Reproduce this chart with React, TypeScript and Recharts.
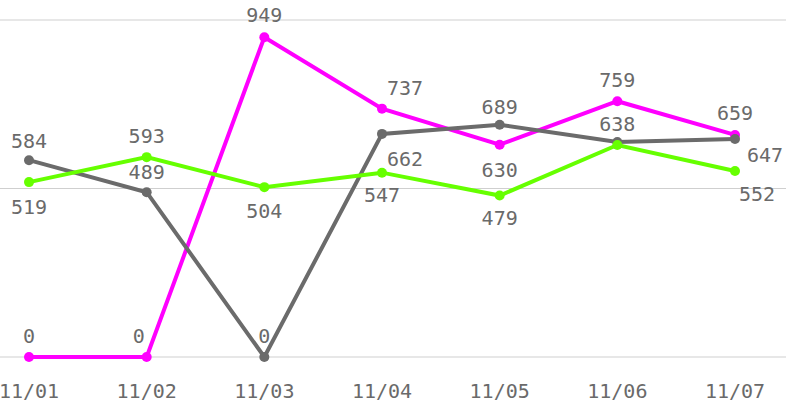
import { LineChart, Line, XAxis, YAxis, CartesianGrid, LabelList } from "recharts";

const categories = ["11/01", "11/02", "11/03", "11/04", "11/05", "11/06", "11/07"];
const grayValues = [584, 489, 0, 662, 689, 638, 647];
const magentaValues = [0, 0, 949, 737, 630, 759, 659];
const greenValues = [519, 593, 504, 547, 479, 629, 552];
const yTicks = [0, 500, 1000];

// label offsets (dx, dy of text centre from the point); null = no label shown
const grayLabelPos: ([number, number] | null)[] = [[0, -19], [0, -20], [0, -21], [23, 25], [0, -18], [0, -18], [30, 16]];
const magentaLabelPos: ([number, number] | null)[] = [[0, -21], [-8, -21], [0, -22], [23, -21], [0, 25], [0, -21], [0, -22]];
const greenLabelPos: ([number, number] | null)[] = [[0, 25], [0, -21], [0, 24], [0, 22], [0, 22], null, [22, 23]];

const data = categories.map((day, i) => ({
  day,
  gray: grayValues[i],
  magenta: magentaValues[i],
  green: greenValues[i],
}));

const FONT = "'DejaVu Sans Mono', monospace";

const makeLabel = (pos: ([number, number] | null)[]) => (props: any) => {
  const { x, y, value, index } = props;
  const p = pos[index];
  if (!p) return null;
  return (
    <text
      x={Number(x) + p[0]}
      y={Number(y) + p[1]}
      textAnchor="middle"
      dominantBaseline="central"
      fill="#6a6a6a"
      fontSize={20}
      fontFamily={FONT}
    >
      {value}
    </text>
  );
};

const App = () => (
  <div style={{ position: "absolute", left: 0, top: 0, background: "#fff" }}>
    <LineChart width={786} height={405} data={data} margin={{ top: 20, right: 0, bottom: 0, left: 0 }}>
      <CartesianGrid vertical={false} stroke="#cfcfcf" />
      <XAxis
        dataKey="day"
        axisLine={false}
        tickLine={false}
        tickSize={0}
        tickMargin={27}
        height={48}
        padding={{ left: 29, right: 51 }}
        tick={{ fill: "#6a6a6a", fontSize: 20, fontFamily: FONT }}
        interval={0}
      />
      <YAxis hide domain={[0, 1000]} ticks={yTicks} />
      <Line
        dataKey="magenta"
        stroke="#ff00ff"
        strokeWidth={4}
        dot={{ r: 5, fill: "#ff00ff", stroke: "none" }}
        isAnimationActive={false}
      >
        <LabelList dataKey="magenta" content={makeLabel(magentaLabelPos)} />
      </Line>
      <Line
        dataKey="gray"
        stroke="#6b6b6b"
        strokeWidth={4}
        dot={{ r: 5, fill: "#6b6b6b", stroke: "none" }}
        isAnimationActive={false}
      >
        <LabelList dataKey="gray" content={makeLabel(grayLabelPos)} />
      </Line>
      <Line
        dataKey="green"
        stroke="#66ff00"
        strokeWidth={4}
        dot={{ r: 5, fill: "#66ff00", stroke: "none" }}
        isAnimationActive={false}
      >
        <LabelList dataKey="green" content={makeLabel(greenLabelPos)} />
      </Line>
    </LineChart>
  </div>
);

export default App;
